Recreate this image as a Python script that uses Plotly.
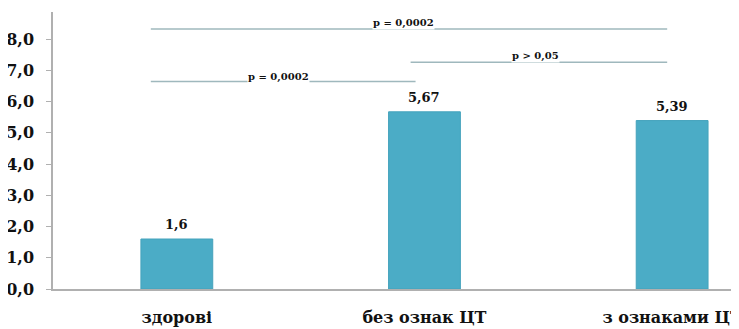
import plotly.graph_objects as go

# data
groups = ["здорові", "без ознак ЦТ", "з ознаками ЦТ"]
values = [1.6, 5.67, 5.39]
value_labels = ["1,6", "5,67", "5,39"]
y_ticks = [0, 1, 2, 3, 4, 5, 6, 7, 8]
p_labels = ["p = 0,0002", "p > 0,05", "p = 0,0002"]  # lower-left, middle-right, top

bar_color = "#4bacc6"
line_color = "#9fb8bd"
font_family = "DejaVu Serif"

fig = go.Figure()
fig.add_trace(go.Bar(x=groups, y=values, width=0.29,
                     marker=dict(color=bar_color, line=dict(color="#45a3bc", width=1))))

# value labels over bars
for g, v, t in zip(groups, values, value_labels):
    fig.add_annotation(x=g, y=v, text="<b>%s</b>" % t, showarrow=False,
                       yanchor="bottom", yshift=5,
                       font=dict(family=font_family, size=13, color="#111"))

# significance brackets (x in category index units)
brackets = [(-0.105, 0.964, 6.64, 0.41, 6.8),
            (0.944, 1.98, 7.26, 1.45, 7.47),
            (-0.105, 1.98, 8.32, 0.915, 8.52)]
for (x0, x1, y, tx, ty), lab in zip(brackets, p_labels):
    fig.add_shape(type="line", x0=x0, x1=x1, y0=y, y1=y, xref="x", yref="y",
                  line=dict(color=line_color, width=1.5))
    fig.add_annotation(x=tx, y=ty, text="<b>%s</b>" % lab, showarrow=False,
                       xref="x", yref="y", bgcolor="white", borderpad=0,
                       font=dict(family=font_family, size=10, color="#111"))

# page body has an 8px margin, so the figure is shifted by 8px right and down
fig.update_layout(
    width=731, height=321,
    margin=dict(l=45, r=0, t=4, b=40),
    plot_bgcolor="white", paper_bgcolor="white",
    separators=", ",
    showlegend=False,
    font=dict(family=font_family, color="#111"),
)
fig.update_xaxes(range=[-0.5, 2.27], showline=True, linecolor="#b0b0b0", linewidth=1.5,
                 ticks="", ticklabelstandoff=13, showgrid=False, automargin=False,
                 tickfont=dict(family=font_family, size=16, color="#111", weight="bold"))
fig.update_yaxes(range=[0, 8.864], tickvals=y_ticks, tickformat=".1f",
                 showline=True, linecolor="#b0b0b0", linewidth=1.5,
                 ticks="outside", ticklen=5, tickcolor="#b0b0b0", ticklabelstandoff=9,
                 showgrid=False, zeroline=False, automargin=False,
                 tickfont=dict(family=font_family, size=16, color="#111", weight="bold"))

fig.write_html("out.html")
